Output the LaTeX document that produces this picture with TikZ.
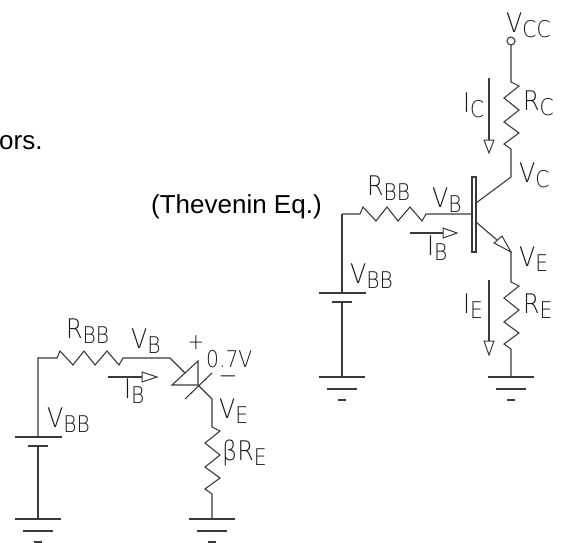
\documentclass[tikz,border=0pt]{standalone}
\usepackage{fontspec}
\setmainfont{Liberation Sans}
\newfontfamily\cadfont[FakeStretch=0.88]{DejaVu Sans ExtraLight}
\newcommand{\cadlabel}[2]{{\cadfont\color{labelgray}\fontsize{27}{27}\selectfont #1\fontsize{23}{23}\selectfont\raisebox{-5pt}{#2}}}
\definecolor{wire}{HTML}{3A3A3A}
\definecolor{labelgray}{HTML}{1A1A1A}
\tikzset{
  wireline/.style={draw=wire, line width=1.1pt},
  headtip/.style={draw=wire, line width=1pt, fill=white},
  plainlabel/.style={inner sep=0pt, anchor=base west, font=\fontsize{26}{28}\selectfont},
  cadtext/.style={inner sep=0pt, anchor=base west}
}
\begin{document}
\begin{tikzpicture}[x=1pt,y=-1pt]
\def\zigdown{-- ++(8,4) -- ++(-15,12) -- ++(15,12) -- ++(-15,12) -- ++(15,11) -- ++(-15,11) -- ++(7,5)}
\def\zigright{-- ++(3,-7) -- ++(13,14) -- ++(11,-14) -- ++(11,14) -- ++(12,-14) -- ++(12,14) -- ++(4,-7)}
\useasboundingbox (0,0) rectangle (566,542);

% thevenin circuit
\coordinate (vccdot) at (511,41);
\coordinate (rctop) at (511,82);
\coordinate (vcnode) at (511,177);
\coordinate (basein) at (472,214);
\coordinate (rbbleft) at (360,214);
\coordinate (corner) at (342,214);
\coordinate (plate) at (342,293);
\coordinate (shortplate) at (342,302);
\coordinate (gndA) at (342,377);
\coordinate (gndB) at (511,377);
\coordinate (emit) at (511,252);
\coordinate (retop) at (511,282);

\draw[wireline] (vccdot) circle (4);
\draw[wireline] (vccdot) ++(0,4) -- (rctop) \zigdown -- (vcnode) -- (476,203);
\draw[wireline] (472,177) rectangle (476,252);
\draw[wireline] (corner) -- (rbbleft) \zigright -- (basein);
\draw[wireline] (plate) -- (corner);
\draw[wireline] (shortplate) -- (gndA);
\draw[wireline] (476,222) -- (emit) -- (retop) \zigdown -- (gndB);
\draw[wireline] (plate) ++(-23,0) -- ++(47,0);
\draw[wireline] (shortplate) ++(-10,0) -- ++(20,0);
\draw[headtip] (emit) -- (502,236) -- (494,243) -- cycle;

% diode circuit
\coordinate (corner2) at (38,358);
\coordinate (rbbleft2) at (57,358);
\coordinate (anode) at (170,358);
\coordinate (plate2) at (38,437);
\coordinate (shortplate2) at (38,446);
\coordinate (gndC) at (38,519);
\coordinate (gndD) at (212,519);
\coordinate (cathode) at (198,385);
\coordinate (ve2) at (212,399);
\coordinate (retop2) at (212,427);

\draw[wireline] (plate2) -- (corner2) -- (rbbleft2) \zigright -- (anode) -- (185,373);
\draw[wireline] (198,361) -- (cathode) -- (172,385) -- cycle;
\draw[wireline] (185,399) -- (212,373);
\draw[wireline] (cathode) -- (ve2) -- (retop2) \zigdown -- (gndD);
\draw[wireline] (shortplate2) -- (gndC);
\draw[wireline] (plate2) ++(-23,0) -- ++(47,0);
\draw[wireline] (shortplate2) ++(-10,0) -- ++(20,0);

% grounds
\foreach \g in {gndA,gndB,gndC,gndD}{
  \draw[wireline] (\g) ++(-23,0) -- ++(46,0);
  \draw[wireline] (\g) ++(-15,12) -- ++(30,0);
  \draw[wireline] (\g) ++(-4,23) -- ++(8,0);
}

% current arrows
\draw[wireline] (489,78) -- (489,140);
\draw[headtip] (484,140) -- (494,140) -- (489,153) -- cycle;
\draw[wireline] (489,280) -- (489,341);
\draw[headtip] (484,341) -- (494,341) -- (489,355) -- cycle;
\draw[wireline] (410,233) -- (443,233);
\draw[headtip] (443,228) -- (443,238) -- (457,233) -- cycle;
\draw[wireline] (108,377) -- (142,377);
\draw[headtip] (142,372) -- (142,382) -- (157,377) -- cycle;

% labels
\node[plainlabel] (orsnote) at (-1,149) {ors.};
\node[plainlabel] (theveninnote) at (151,213) {(Thevenin Eq.)};
\node[cadtext] (vcclabel) at (506,32) {\cadlabel{V}{CC}};
\node[cadtext] (rclabel) at (523,110) {\cadlabel{R}{C}};
\node[cadtext] (iclabel) at (463,112) {\cadlabel{I}{C}};
\node[cadtext] (vclabel) at (519,182) {\cadlabel{V}{C}};
\node[cadtext] (rbblabel) at (367,195) {\cadlabel{R}{BB}};
\node[cadtext] (vblabel) at (432,207) {\cadlabel{V}{B}};
\node[cadtext] (iblabel) at (427,255) {\cadlabel{I}{B}};
\node[cadtext] (velabel) at (519,266) {\cadlabel{V}{E}};
\node[cadtext] (relabel) at (523,313) {\cadlabel{R}{E}};
\node[cadtext] (ielabel) at (463,313) {\cadlabel{I}{E}};
\node[cadtext] (vbblabel) at (350,283) {\cadlabel{V}{BB}};
\node[cadtext] (rbblabel2) at (66,338) {\cadlabel{R}{BB}};
\node[cadtext] (vblabel2) at (131,348) {\cadlabel{V}{B}};
\node[cadtext] (iblabel2) at (124,398) {\cadlabel{I}{B}};
\node[cadtext] (vbblabel2) at (47,427) {\cadlabel{V}{BB}};
\node[cadtext] (velabel2) at (219,418) {\cadlabel{V}{E}};
\node[cadtext] (betalabel) at (222,460) {\cadlabel{βR}{E}};
\node[inner sep=0pt] (pluslabel) at (196,343) {\cadfont\color{labelgray}\fontsize{22}{22}\selectfont +};
\node[cadtext] (voltlabel) at (206,367) {\cadfont\color{labelgray}\fontsize{23}{23}\selectfont 0.7V};
\node[inner sep=0pt] (minuslabel) at (228,380) {\cadfont\color{labelgray}\fontsize{26}{26}\selectfont −};
\end{tikzpicture}
\end{document}
